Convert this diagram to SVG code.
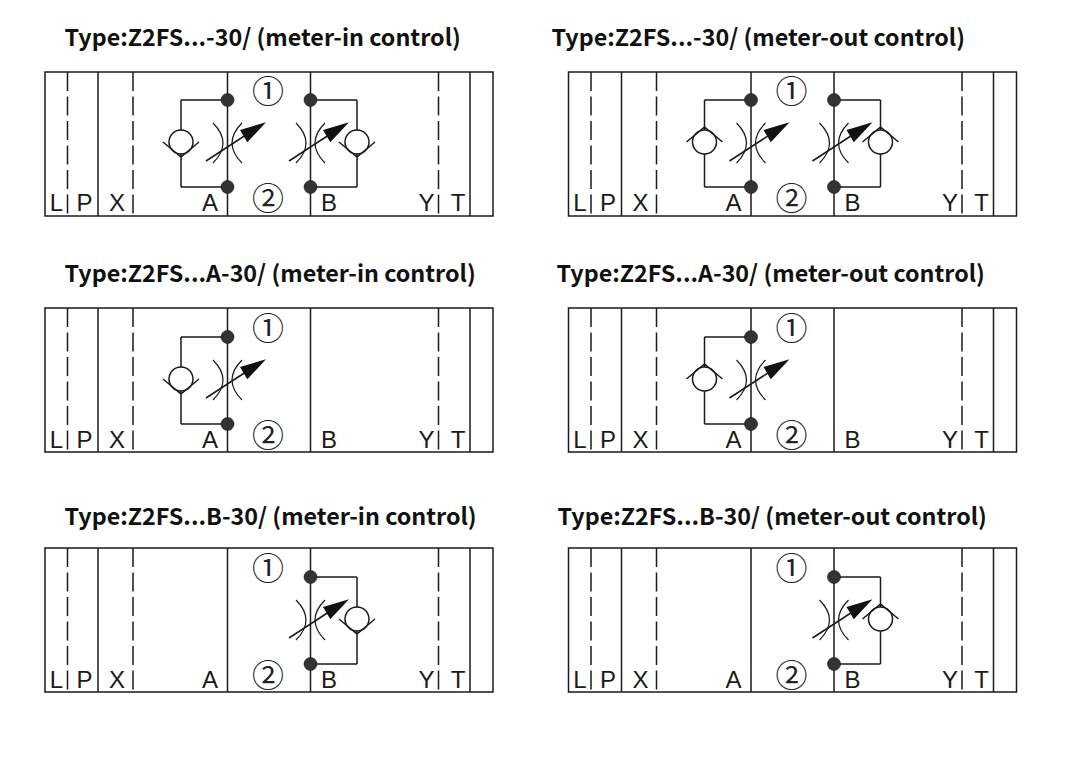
<svg xmlns="http://www.w3.org/2000/svg" width="1092" height="769" viewBox="0 0 1092 769">
<style>
.l{fill:none;stroke:#1a1a1a;stroke-width:1.5}
.d{fill:none;stroke:#1a1a1a;stroke-width:1.5;stroke-dasharray:19 5.5}
.a{fill:none;stroke:#1a1a1a;stroke-width:1.2}
.f{fill:#111;stroke:none}
.dot{fill:#333;stroke:#111;stroke-width:.6}
.t{font-family:"Noto Sans CJK SC","Noto Sans",sans-serif;font-weight:700;font-size:23.3px;fill:#111}
.p{font-family:"Liberation Sans",Arial,sans-serif;font-size:24px;fill:#1a1a1a;text-anchor:middle}
.n{font-family:"Noto Sans CJK SC",sans-serif;font-size:32px;fill:#222;text-anchor:middle}
</style>
<defs>
<g id="frame">
<rect class="l" x="45" y="72" width="448" height="144"/>
<path class="d" d="M67.500 72V216M133 72V216M438.500 72V216"/>
<path class="l" d="M98 72V216M227.500 72V216M310.500 72V216M470 72V216"/>
</g>
<g id="lab">
<g class="p">
<text x="56.500" y="210.500">L</text><text x="84.500" y="210.500">P</text><text x="117" y="210.500">X</text><text x="210" y="210.500">A</text><text x="329" y="210.500">B</text><text x="426.500" y="210.500">Y</text><text x="458" y="210.500">T</text>
</g>
<text class="n" x="268" y="102.500">①</text><text class="n" x="268" y="209.500">②</text>
</g>
<g id="thr">
<path class="a" d="M213 123Q233 143 213 163M242 123Q222 143 242 163"/>
<path class="l" d="M206 161L252 131"/>
<polygon class="f" points="266,122.300 240,130 247.300,142.300"/>
</g>
<g id="in">
<circle class="l" cx="0" cy="142" r="12"/>
<path class="l" d="M-18 142L0 157L18 142M0 100V130M0 154V187"/>
</g>
<g id="out">
<circle class="l" cx="0" cy="142" r="12"/>
<path class="l" d="M-18 142L0 127L18 142M0 100V130M0 154V187"/>
</g>
<g id="lnode">
<path class="l" d="M0 100H46.500M0 187H46.500"/>
<circle class="dot" cx="46.500" cy="100" r="6.500"/><circle class="dot" cx="46.500" cy="187" r="6.500"/>
</g>
<g id="rnode">
<path class="l" d="M0 100H-46.500M0 187H-46.500"/>
<circle class="dot" cx="-46.500" cy="100" r="6.500"/><circle class="dot" cx="-46.500" cy="187" r="6.500"/>
</g>
</defs>
<g id="panel-r1-in">
<text class="t" x="64.500" y="46">Type:Z2FS...-30/ (meter-in control)</text>
<use href="#frame"/><use href="#lab"/>
<g id="a1"><use href="#in" x="181"/><use href="#thr"/><use href="#lnode" x="181"/></g>
<g id="b1"><use href="#in" x="357"/><use href="#thr" x="83"/><use href="#rnode" x="357"/></g>
</g>
<g id="panel-r1-out" transform="translate(523.500 0)">
<text class="t" x="28" y="46">Type:Z2FS...-30/ (meter-out control)</text>
<use href="#frame"/><use href="#lab"/>
<g id="a2"><use href="#out" x="181"/><use href="#thr"/><use href="#lnode" x="181"/></g>
<g id="b2"><use href="#out" x="357"/><use href="#thr" x="83"/><use href="#rnode" x="357"/></g>
</g>
<g id="panel-r2-in" transform="translate(0 236)">
<text class="t" x="64.500" y="46">Type:Z2FS...A-30/ (meter-in control)</text>
<use href="#frame"/><use href="#lab" y="1"/>
<g id="a3" transform="translate(0 1)"><use href="#in" x="181"/><use href="#thr"/><use href="#lnode" x="181"/></g>
</g>
<g id="panel-r2-out" transform="translate(523.500 236)">
<text class="t" x="33" y="46">Type:Z2FS...A-30/ (meter-out control)</text>
<use href="#frame"/><use href="#lab" y="1"/>
<g id="a4" transform="translate(0 1)"><use href="#out" x="181"/><use href="#thr"/><use href="#lnode" x="181"/></g>
</g>
<g id="panel-r3-in" transform="translate(0 476)">
<text class="t" x="64.500" y="49">Type:Z2FS...B-30/ (meter-in control)</text>
<use href="#frame"/><use href="#lab" y="1"/>
<g id="b5" transform="translate(0 1)"><use href="#in" x="357"/><use href="#thr" x="83"/><use href="#rnode" x="357"/></g>
</g>
<g id="panel-r3-out" transform="translate(523.500 476)">
<text class="t" x="34" y="49">Type:Z2FS...B-30/ (meter-out control)</text>
<use href="#frame"/><use href="#lab" y="1"/>
<g id="b6" transform="translate(0 1)"><use href="#out" x="357"/><use href="#thr" x="83"/><use href="#rnode" x="357"/></g>
</g>
</svg>
